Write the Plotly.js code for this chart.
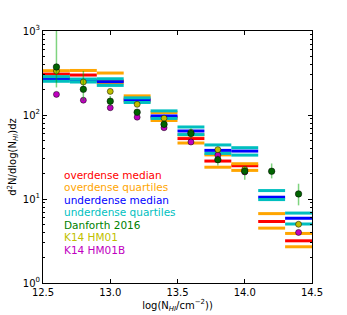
<!DOCTYPE html>
<html>
<head>
<meta charset="utf-8">
<script src="https://cdn.plot.ly/plotly-3.0.1.min.js"></script>
<style>html,body{margin:0;padding:0;background:#fff;}#chart{width:347px;height:315px;}</style>
</head>
<body>
<div id="chart"></div>
<script>
// bin edges (log N_HI) and step values
const binLeft  = [12.5, 12.7, 12.9, 13.1, 13.3, 13.5, 13.7, 13.9, 14.1, 14.3, 14.5];
const binRight = [12.7, 12.9, 13.1, 13.3, 13.5, 13.7, 13.9, 14.1, 14.3, 14.5, 14.7];
const overMedian = [307, 299, 254, 155, 94, 52.4, 28.3, 24.9, 5.4, 3.18, 1.69];
const overUpper  = [337, 339, 316, 169, 107, 58, 33.5, 26.3, 6.7, 3.89, 2.22];
const overLower  = [275, 262, 240, 144, 86, 46.4, 23.9, 21.9, 4.5, 2.70, 1.32];
const underMedian = [268, 257, 249, 150, 97.5, 64.5, 37.9, 37.2, 10.5, 5.9, 2.93];
const underUpper  = [286, 268, 270, 160, 112, 72, 44, 40.8, 12.6, 6.8, 3.4];
const underLower  = [252, 247, 225, 141, 91, 58.5, 34.9, 33.3, 9.84, 5.04, 2.5];

// Danforth 2016
const danX = [12.6, 12.8, 13.0, 13.2, 13.4, 13.6, 13.8, 14.0, 14.2, 14.4];
const danY = [373, 202, 146, 108, 77.4, 60.1, 29.4, 21.4, 21.4, 11.5];
const danHi = [3000, 334, 168, 116, 81, 68.9, 33, 24.4, 26.5, 15.2];
const danLo = [213, 148, 127, 100, 70, 52.4, 25, 17, 17.6, 8.4];

// K14 HM01 / HM01B
const k14X = [12.6, 12.8, 13.0, 13.2, 13.4, 13.6, 13.8, 14.0, 14.4];
const hm01Y = [334, 247, 191, 134, 91.6, 62, 38.7, 22.5, 5.0];
const hm01bY = [176, 150, 122, 94.2, 70.5, 47.7, 33.3, 21, 4.0];

const legendLabels = ["overdense median", "overdense quartiles", "underdense median",
  "underdense quartiles", "Danforth 2016", "K14 HM01", "K14 HM01B"];
const legendColors = ["#ff0000", "#ffa500", "#0000ff", "#00bfbf", "#007f00", "#bfbf00", "#bf00bf"];

function steps(vals) {
  const x = [], y = [];
  for (let i = 0; i < vals.length; i++) {
    x.push(binLeft[i], binRight[i], null);
    y.push(vals[i], vals[i], null);
  }
  return {x, y};
}
function stepTrace(vals, color) {
  const s = steps(vals);
  return {x: s.x, y: s.y, mode: 'lines', type: 'scatter', line: {color: color, width: 3}, hoverinfo: 'skip', showlegend: false};
}

const traces = [
  stepTrace(overMedian, '#ff0000'),
  stepTrace(overUpper, '#ffa500'),
  stepTrace(overLower, '#ffa500'),
  stepTrace(underMedian, '#0000ff'),
  stepTrace(underUpper, '#00bfbf'),
  stepTrace(underLower, '#00bfbf'),
  {x: k14X, y: hm01bY, mode: 'markers', type: 'scatter', showlegend: false,
   marker: {color: '#bf00bf', size: 6, line: {color: '#000', width: 0.5}}},
  {x: k14X, y: hm01Y, mode: 'markers', type: 'scatter', showlegend: false,
   marker: {color: '#bfbf00', size: 6, line: {color: '#000', width: 0.5}}},
  {x: danX, y: danY, mode: 'markers', type: 'scatter', showlegend: false,
   error_y: {type: 'data', symmetric: false,
     array: danHi.map((h, i) => h - danY[i]),
     arrayminus: danLo.map((l, i) => danY[i] - l),
     color: 'rgba(0,170,0,0.5)', thickness: 1.5, width: 0},
   marker: {color: '#006400', size: 6.5, line: {color: '#000', width: 0.5}}}
];

const annotations = legendLabels.map((t, i) => ({
  text: t, xref: 'paper', yref: 'paper', x: 0.072, y: 0.4286 - i * 0.0496,
  xanchor: 'left', yanchor: 'middle', showarrow: false,
  font: {family: 'DejaVu Sans', size: 10.5, color: legendColors[i]}
}));

const layout = {
  width: 347, height: 315,
  margin: {l: 43, r: 35, t: 31, b: 32},
  paper_bgcolor: '#fff', plot_bgcolor: '#fff',
  font: {family: 'DejaVu Sans', size: 10, color: '#000'},
  showlegend: false,
  xaxis: {
    range: [12.5, 14.5], tickvals: [12.5, 13.0, 13.5, 14.0, 14.5],
    ticktext: ['12.5', '13.0', '13.5', '14.0', '14.5'],
    ticks: 'inside', ticklen: 4, tickcolor: '#000', showgrid: false, zeroline: false,
    showline: true, linecolor: '#000', linewidth: 1, mirror: 'ticks',
    tickfont: {family: 'DejaVu Sans', size: 10},
    title: {text: 'log(N<sub><i>HI</i></sub>/cm<sup>−2</sup>))', font: {family: 'DejaVu Sans', size: 10}, standoff: 4}
  },
  yaxis: {
    type: 'log', range: [0, 3],
    tickvals: [1, 10, 100, 1000], ticktext: ['10<sup>0</sup>', '10<sup>1</sup>', '10<sup>2</sup>', '10<sup>3</sup>'],
    ticks: 'inside', ticklen: 4, tickcolor: '#000', showgrid: false, zeroline: false,
    showline: true, linecolor: '#000', linewidth: 1, mirror: 'ticks',
    minor: {ticks: 'inside', ticklen: 2, tickcolor: '#000', showgrid: false, dtick: 'D1'},
    tickfont: {family: 'DejaVu Sans', size: 10},
    title: {text: 'd<sup>2</sup>N/dlog(N<sub><i>HI</i></sub>)dz', font: {family: 'DejaVu Sans', size: 10}, standoff: 4}
  },
  annotations: annotations
};

Plotly.newPlot('chart', traces, layout, {displayModeBar: false, staticPlot: true});
</script>
</body>
</html>
